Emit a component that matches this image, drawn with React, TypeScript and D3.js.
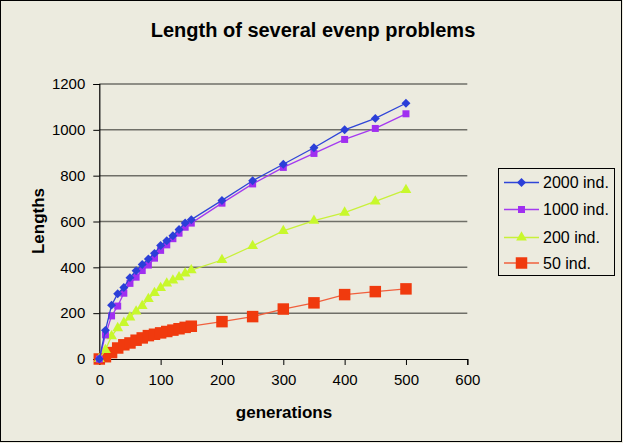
import React, { useRef, useEffect } from 'react';
import * as d3 from 'd3';

const generations = [0, 10, 20, 30, 40, 50, 60, 70, 80, 90, 100, 110, 120, 130, 140, 150, 200, 250, 300, 350, 400, 450, 500];
const ind2000 = [0, 125, 235, 285, 312, 355, 385, 412, 436, 461, 495, 516, 538, 565, 594, 608, 692, 778, 850, 922, 1000, 1050, 1116];
const ind1000 = [0, 105, 188, 231, 287, 330, 357, 386, 410, 440, 474, 498, 525, 549, 575, 593, 680, 764, 836, 897, 958, 1006, 1070];
const ind200 = [0, 40, 100, 135, 158, 182, 208, 232, 262, 288, 310, 330, 343, 357, 373, 388, 432, 493, 559, 604, 639, 688, 738];
const ind50 = [0, 10, 28, 48, 62, 70, 82, 92, 102, 108, 114, 120, 126, 132, 138, 143, 163, 185, 218, 245, 281, 294, 306];

const seriesNames = ['2000 ind.', '1000 ind.', '200 ind.', '50 ind.'];
const xTicks = [0, 100, 200, 300, 400, 500, 600];
const yTicks = [0, 200, 400, 600, 800, 1000, 1200];

const FONT = 'Liberation Sans, Arial, sans-serif';

// excel-style diamond: a square turned 45 degrees
const diamond = {
    draw(context: any, size: number) {
        const r = Math.sqrt(size / 2);
        context.moveTo(0, -r);
        context.lineTo(r, 0);
        context.lineTo(0, r);
        context.lineTo(-r, 0);
        context.closePath();
    }
};

function App() {
    const svgRef = useRef<SVGSVGElement>(null);
    const width = 623;
    const height = 443;
    const plot = { left: 99.3, right: 467.3, top: 84, bottom: 359 };

    useEffect(() => {
        const svg = d3.select(svgRef.current);
        svg.selectAll('*').remove();

        const x = d3.scaleLinear().domain([0, 600]).range([plot.left, plot.right]);
        const y = d3.scaleLinear().domain([0, 1200]).range([plot.bottom, plot.top]);

        svg.append('rect').attr('x', 0).attr('y', 0).attr('width', width).attr('height', height).attr('fill', '#ECEBDF');
        svg.append('rect').attr('x', 0.5).attr('y', 0.5).attr('width', 621).attr('height', 441)
            .attr('fill', 'none').attr('stroke', '#000').attr('stroke-width', 1);

        // title
        svg.append('text').attr('x', 313).attr('y', 37).attr('text-anchor', 'middle')
            .style('font-family', FONT).style('font-size', '20px').style('font-weight', 'bold')
            .text('Length of several evenp problems');

        // grid lines
        svg.append('g').selectAll('line').data(yTicks.filter(d => d > 0)).join('line')
            .attr('x1', plot.left).attr('x2', plot.right)
            .attr('y1', d => y(d)).attr('y2', d => y(d))
            .attr('stroke', '#6f6f68').attr('stroke-width', 1.5);

        // axes
        const yAxis = svg.append('g').attr('transform', `translate(${plot.left},0)`)
            .call(d3.axisLeft(y).tickValues(yTicks).tickFormat(d3.format('d')).tickSize(6).tickPadding(8));
        const xAxis = svg.append('g').attr('transform', `translate(0,${plot.bottom})`)
            .call(d3.axisBottom(x).tickValues(xTicks).tickFormat(d3.format('d')).tickSize(6).tickPadding(9));
        [xAxis, yAxis].forEach(ax => {
            ax.select('.domain').attr('stroke', '#000').attr('stroke-width', 1.2);
            ax.selectAll('.tick line').attr('stroke', '#000');
            ax.selectAll('.tick text').attr('fill', '#000')
                .style('font-family', FONT).style('font-size', '15px');
        });

        svg.append('text').attr('x', 284).attr('y', 418).attr('text-anchor', 'middle')
            .style('font-family', FONT).style('font-size', '17px').style('font-weight', 'bold')
            .text('generations');
        svg.append('text').attr('transform', 'translate(44,221) rotate(-90)').attr('text-anchor', 'middle')
            .style('font-family', FONT).style('font-size', '17px').style('font-weight', 'bold')
            .text('Lengths');

        const series = [
            { name: seriesNames[0], values: ind2000, line: '#2F45D8', fill: '#2B3FD8', symbol: diamond, size: 40 },
            { name: seriesNames[1], values: ind1000, line: '#A43AF0', fill: '#A02FF0', symbol: d3.symbolSquare, size: 49 },
            { name: seriesNames[2], values: ind200, line: '#C8F03A', fill: '#C8F82C', symbol: d3.symbolTriangle, size: 50 },
            { name: seriesNames[3], values: ind50, line: '#F0603E', fill: '#F03A0E', symbol: d3.symbolSquare, size: 132 },
        ];

        const line = d3.line<number>().x((d, i) => x(generations[i])).y(d => y(d));

        // draw in reverse so 2000 is on top
        series.slice().reverse().forEach(s => {
            const g = svg.append('g');
            g.append('path').attr('d', line(s.values)).attr('fill', 'none')
                .attr('stroke', s.line).attr('stroke-width', 1.3);
            g.selectAll('path.m').data(s.values).join('path').attr('class', 'm')
                .attr('transform', (d, i) => `translate(${x(generations[i])},${y(d)})`)
                .attr('d', d3.symbol().type(s.symbol as any).size(s.size)())
                .attr('fill', s.fill);
        });

        // legend
        const lg = svg.append('g');
        lg.append('rect').attr('x', 498.5).attr('y', 168.5).attr('width', 116).attr('height', 107)
            .attr('fill', '#ECEBDF').attr('stroke', '#000').attr('stroke-width', 1);
        series.forEach((s, i) => {
            const ly = [182.5, 209.5, 237.5, 263][i];
            lg.append('line').attr('x1', 504).attr('x2', 539).attr('y1', ly).attr('y2', ly)
                .attr('stroke', s.line).attr('stroke-width', 1.5);
            lg.append('path').attr('transform', `translate(521.5,${ly})`)
                .attr('d', d3.symbol().type(s.symbol as any).size(s.size)()).attr('fill', s.fill);
            lg.append('text').attr('x', 543).attr('y', ly + 5.5)
                .style('font-family', FONT).style('font-size', '16px')
                .text(s.name);
        });
    }, []);

    return (
        <div style={{ position: 'fixed', left: 0, top: 0 }}>
            <svg ref={svgRef} width={width} height={height} style={{ display: 'block' }}></svg>
        </div>
    );
}

export default App;
